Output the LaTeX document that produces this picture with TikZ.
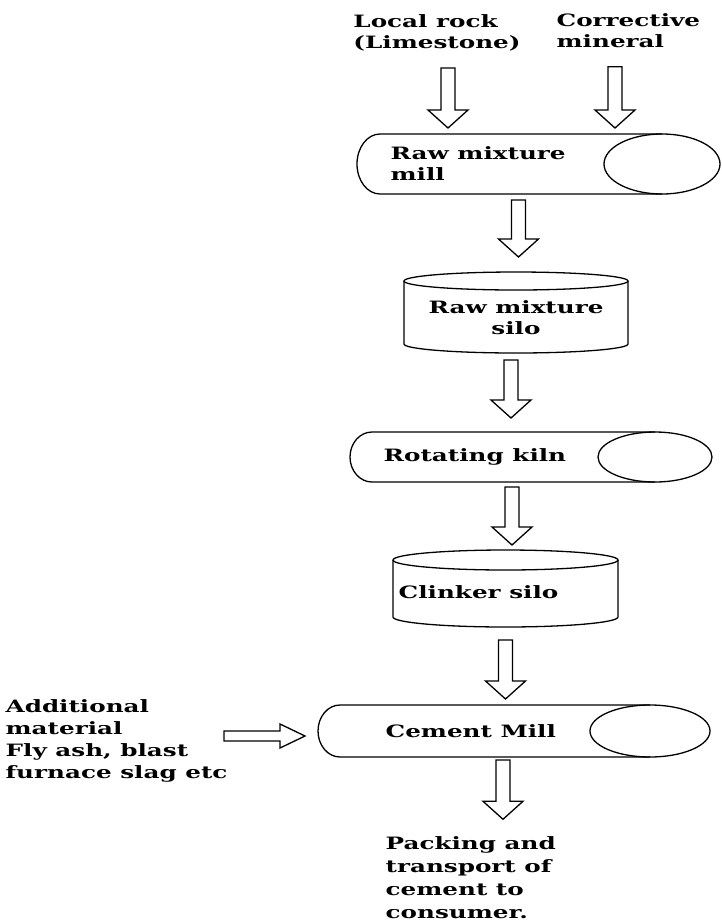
\documentclass[tikz,border=0pt]{standalone}
\usepackage{fontspec}
\newfontfamily\labelfont{DejaVu Serif}[FakeStretch=1.45]
\usetikzlibrary{calc}

\tikzset{
  lbl/.style={font=\labelfont\bfseries\fontsize{17pt}{21pt}\selectfont, inner sep=0pt, align=left},
  vessel/.style={inner sep=0pt, outer sep=0pt},
  downarr/.style={to path={let \p1=(\tikztostart), \p2=(\tikztotarget) in
    (\x1-7pt,\y1) -- (\x1+7pt,\y1) -- (\x1+7pt,\y2+18pt) -- (\x1+20pt,\y2+18pt) -- (\x1,\y2)
    -- (\x1-20pt,\y2+18pt) -- (\x1-7pt,\y2+18pt) -- cycle}},
  rightarr/.style={to path={let \p1=(\tikztostart), \p2=(\tikztotarget) in
    (\x1,\y1+5pt) -- (\x2-25pt,\y1+5pt) -- (\x2-25pt,\y1+12pt) -- (\x2,\y1)
    -- (\x2-25pt,\y1-12pt) -- (\x2-25pt,\y1-5pt) -- (\x1,\y1-5pt) -- cycle}}
}

\begin{document}
\begin{tikzpicture}[x=1pt, y=-1pt, line width=1.3pt]
\useasboundingbox (0,0) rectangle (721,922);

% Inputs at the top
\node[lbl, anchor=center] (rock) at (437,33) {Local rock\\(Limestone)};
\node[lbl, anchor=west] (mineral) at (556,31) {Corrective\\mineral};

% Raw mixture mill
\node[vessel, minimum width=363pt, minimum height=60pt] (rmill) at (538.5,164) {};
\draw ([xshift=-58pt]rmill.north east) -- ([xshift=23pt]rmill.north west)
  arc[start angle=90, end angle=270, x radius=23pt, y radius=30pt] -- ([xshift=-58pt]rmill.south east);
\draw ([xshift=-58pt]rmill.east) ellipse [x radius=58pt, y radius=30pt];
\node[lbl, anchor=west] (rmilltxt) at (390,164) {Raw mixture\\mill};

% Raw mixture silo
\node[vessel, minimum width=224pt, minimum height=81pt] (rsilo) at (516,312.5) {};
\draw ([yshift=-9pt]rsilo.north) ellipse [x radius=112pt, y radius=9pt];
\draw ([yshift=-9pt]rsilo.north west) -- ([yshift=9pt]rsilo.south west)
  arc[start angle=180, end angle=360, x radius=112pt, y radius=9pt] -- ([yshift=-9pt]rsilo.north east);
\node[lbl, align=center] (rsilotxt) at (516,318) {Raw mixture\\silo};

% Rotating kiln
\node[vessel, minimum width=362pt, minimum height=50pt] (kiln) at (531,457) {};
\draw ([xshift=-57pt]kiln.north east) -- ([xshift=22pt]kiln.north west)
  arc[start angle=90, end angle=270, x radius=22pt, y radius=25pt] -- ([xshift=-57pt]kiln.south east);
\draw ([xshift=-57pt]kiln.east) ellipse [x radius=57pt, y radius=25pt];
\node[lbl, anchor=west] (kilntxt) at (383,457) {Rotating kiln};

% Clinker silo
\node[vessel, minimum width=225pt, minimum height=77pt] (csilo) at (505.5,588.5) {};
\draw ([yshift=-10pt]csilo.north) ellipse [x radius=112.5pt, y radius=10pt];
\draw ([yshift=-10pt]csilo.north west) -- ([yshift=10pt]csilo.south west)
  arc[start angle=180, end angle=360, x radius=112.5pt, y radius=10pt] -- ([yshift=-10pt]csilo.north east);
\node[lbl, anchor=west] (csilotxt) at (398,592) {Clinker silo};

% Cement mill
\node[vessel, minimum width=392pt, minimum height=52pt] (cmill) at (514,731) {};
\draw ([xshift=-60pt]cmill.north east) -- ([xshift=22pt]cmill.north west)
  arc[start angle=90, end angle=270, x radius=22pt, y radius=26pt] -- ([xshift=-60pt]cmill.south east);
\draw ([xshift=-60pt]cmill.east) ellipse [x radius=60pt, y radius=26pt];
\node[lbl, anchor=west] (cmilltxt) at (385,731) {Cement Mill};

% Side input and output
\node[lbl, anchor=west, font=\labelfont\bfseries\fontsize{17pt}{22pt}\selectfont] (addl) at (5,741)
  {Additional\\material\\Fly ash, blast\\furnace slag etc};
\node[lbl, anchor=west, font=\labelfont\bfseries\fontsize{17pt}{23pt}\selectfont] (pack) at (385,878)
  {Packing and\\transport of\\cement to\\consumer.};

% Flow arrows
\draw[downarr] ([xshift=11pt, yshift=-16pt]rock.south) to ([yshift=6pt]rmill.north);
\draw[downarr] ([xshift=59pt, yshift=-18pt]mineral.south west) to ([yshift=6pt]rmill.north);
\draw[downarr] ([xshift=-20pt, yshift=-6pt]rmill.south) to ([yshift=15pt]rsilo.north);
\draw[downarr] ([xshift=-5pt, yshift=-7pt]rsilo.south) to ([yshift=14pt]kiln.north);
\draw[downarr] ([xshift=-19pt, yshift=-5pt]kiln.south) to ([yshift=5pt]csilo.north);
\draw[downarr] ([yshift=-13pt]csilo.south) to ([yshift=6pt]cmill.north);
\draw[downarr] ([xshift=-11pt, yshift=-3pt]cmill.south) to ([yshift=17pt]pack.north);
\draw[rightarr] ([xshift=-4pt, yshift=5pt]addl.east) to ([xshift=-13pt]cmill.west);
\end{tikzpicture}
\end{document}
